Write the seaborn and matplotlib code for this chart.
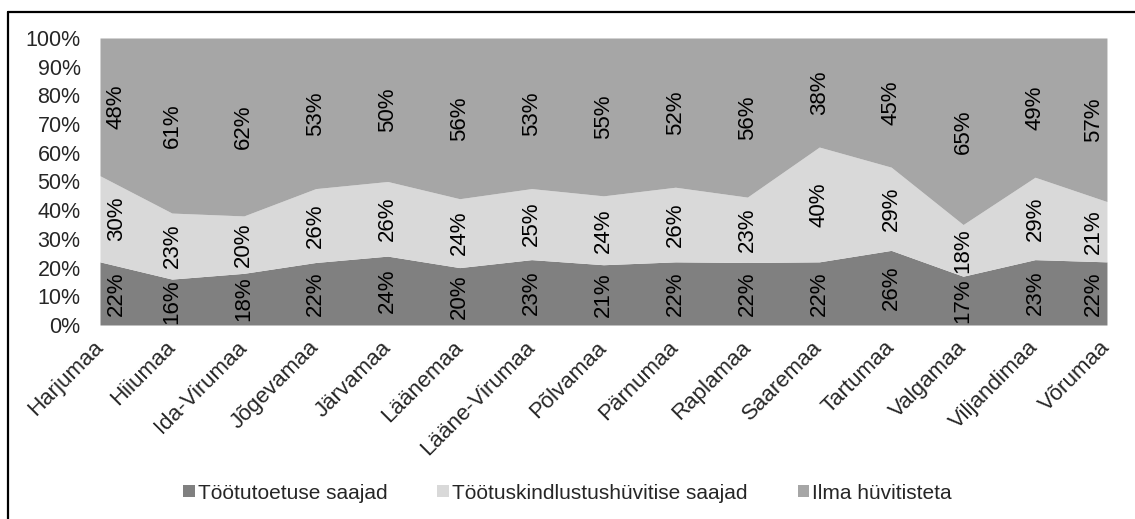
import numpy as np
import pandas as pd
import matplotlib
matplotlib.use('Agg')
import matplotlib.pyplot as plt
import seaborn as sns
import matplotlib.ticker as mticker
from matplotlib.lines import Line2D

# Andmed
maakonnad = ['Harjumaa', 'Hiiumaa', 'Ida-Virumaa', 'Jõgevamaa', 'Järvamaa', 'Läänemaa',
             'Lääne-Virumaa', 'Põlvamaa', 'Pärnumaa', 'Raplamaa', 'Saaremaa', 'Tartumaa',
             'Valgamaa', 'Viljandimaa', 'Võrumaa']
tootutoetus = [22, 16, 18, 22, 24, 20, 23, 21, 22, 22, 22, 26, 17, 23, 22]
kindlustus = [30, 23, 20, 26, 26, 24, 25, 24, 26, 23, 40, 29, 18, 29, 21]
ilma = [48, 61, 62, 53, 50, 56, 53, 55, 52, 56, 38, 45, 65, 49, 57]
seeriad = ['Töötutoetuse saajad', 'Töötuskindlustushüvitise saajad', 'Ilma hüvitisteta']
varvid = ['#808080', '#d9d9d9', '#a6a6a6']

df = pd.DataFrame({seeriad[0]: tootutoetus, seeriad[1]: kindlustus, seeriad[2]: ilma},
                  index=maakonnad)
osa = df.div(df.sum(axis=1), axis=0)  # 100% kuhjatud

sns.set_theme(style='white')
plt.rcParams['font.family'] = ['Liberation Sans', 'DejaVu Sans']

fig = plt.figure(figsize=(11.35, 5.19), dpi=100)
ax = fig.add_axes([0.0881, 0.3738, 0.9753 - 0.0881, 0.9268 - 0.3738])

x = np.arange(len(maakonnad))
ax.stackplot(x, *[osa[s].values for s in seeriad], colors=varvid, labels=seeriad, linewidth=0)

# Andmesildid iga riba keskel (äärmised nihutatud sissepoole nagu Excelis)
n = len(maakonnad)
alus = np.zeros(n)
for s in seeriad:
    v = osa[s].values
    for i in range(n):
        if i == 0:
            ha, dx = 'left', 6
        elif i == n - 1:
            ha, dx = 'right', -3
        else:
            ha, dx = 'center', 0
        ax.annotate(f'{df[s].iloc[i]}%', (x[i], alus[i] + v[i] / 2), xytext=(dx, 0),
                    textcoords='offset pixels', rotation=90, ha=ha, va='center',
                    fontsize=16, color='black')
    alus = alus + v

ax.set_xlim(0, n - 1)
ax.set_ylim(0, 1)
ax.yaxis.set_major_locator(mticker.MultipleLocator(0.1))
ax.yaxis.set_major_formatter(mticker.FuncFormatter(lambda v, p: f'{v*100:.0f}%'))
ax.set_xticks(x)
ax.set_xticklabels(maakonnad, rotation=45, ha='right', va='center', rotation_mode='anchor')
ax.tick_params(axis='x', length=0, pad=14, labelsize=16)
ax.tick_params(axis='y', length=0, pad=14, labelsize=15.5)
sns.despine(ax=ax, left=True, bottom=True)
ax.grid(False)

leg = fig.legend(loc='center', bbox_to_anchor=(0.5, 0.05), ncol=3, frameon=False,
                 fontsize=15, handlelength=0.55, handleheight=0.55, handletextpad=0.15,
                 columnspacing=2.4)

# Välisraam (vasak ja ülemine joon)
fig.add_artist(Line2D([8 / 1135, 8 / 1135], [0, 1 - 12 / 519], color='black', lw=1.6,
                      transform=fig.transFigure))
fig.add_artist(Line2D([8 / 1135, 1], [1 - 12 / 519, 1 - 12 / 519], color='black', lw=1.6,
                      transform=fig.transFigure))

fig.savefig('out.png', dpi=100)
